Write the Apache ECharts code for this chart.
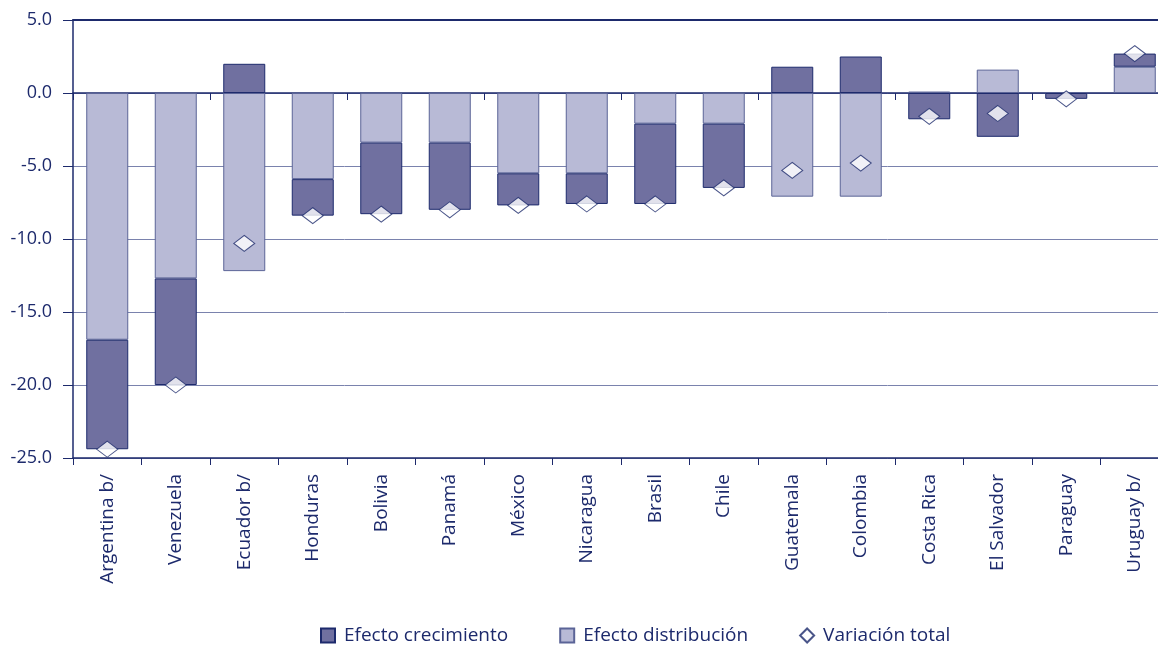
<!DOCTYPE html>
<html>
<head>
<meta charset="utf-8">
<script src="https://cdn.jsdelivr.net/npm/echarts@6/dist/echarts.min.js"></script>
<style>
html,body{margin:0;padding:0;background:#fff;}
#chart{width:1158px;height:645px;}
</style>
</head>
<body>
<div id="chart"></div>
<script>
var categories = ['Argentina b/','Venezuela','Ecuador b/','Honduras','Bolivia','Panamá','México','Nicaragua','Brasil','Chile','Guatemala','Colombia','Costa Rica','El Salvador','Paraguay','Uruguay b/'];
var efectoCrecimiento = [-7.5,-7.3,2.0,-2.5,-4.9,-4.6,-2.2,-2.1,-5.5,-4.4,1.8,2.5,-1.8,-3.0,-0.4,0.9];
var efectoDistribucion = [-16.9,-12.7,-12.2,-5.9,-3.4,-3.4,-5.5,-5.5,-2.1,-2.1,-7.1,-7.1,0.1,1.6,0,1.8];
var variacionTotal = [-24.4,-20.0,-10.3,-8.4,-8.3,-8.0,-7.7,-7.6,-7.6,-6.5,-5.3,-4.8,-1.6,-1.4,-0.4,2.7];
var yTickLabels = ['-25.0','-20.0','-15.0','-10.0','-5.0','0.0','5.0'];

var navy = '#1d2a6c';
var font = 'Open Sans';
var chart = echarts.init(document.getElementById('chart'));
chart.setOption({
  animation: false,
  textStyle: {fontFamily: font, color: navy},
  grid: {left: 73, top: 20, width: 1096, height: 438, show: false, outerBoundsMode: 'none', containLabel: false},
  legend: {
    top: 621, left: 315, itemWidth: 14, itemHeight: 14, itemGap: 51,
    textStyle: {fontFamily: font, fontSize: 19, color: navy, padding: [0, 0, 0, 4]},
    data: [
      {name: 'Efecto crecimiento', icon: 'rect'},
      {name: 'Efecto distribución', icon: 'rect'},
      {name: 'Variación total', icon: 'diamond'}
    ]
  },
  xAxis: [
    {
      type: 'category', data: categories, position: 'bottom',
      axisLine: {onZero: false, lineStyle: {color: navy, width: 1.5}},
      axisTick: {show: true, length: 7, lineStyle: {color: navy}},
      axisLabel: {rotate: 90, margin: 16, fontSize: 19, color: navy, fontFamily: font, interval: 0},
      splitLine: {show: false}
    },
    {
      type: 'category', data: categories, position: 'bottom',
      axisLine: {onZero: true, lineStyle: {color: navy, width: 1.5}},
      axisTick: {show: true, length: 7, lineStyle: {color: navy}},
      axisLabel: {show: false},
      splitLine: {show: false}
    },
    {
      type: 'category', data: categories, position: 'top',
      axisLine: {show: true, onZero: false, lineStyle: {color: navy, width: 1.8}},
      axisTick: {show: false},
      axisLabel: {show: false},
      splitLine: {show: false}
    }
  ],
  yAxis: {
    type: 'value', min: -25, max: 5, interval: 5,
    axisLine: {show: true, lineStyle: {color: navy, width: 1.5}},
    axisTick: {show: true, length: 10, lineStyle: {color: navy}},
    axisLabel: {margin: 21, fontSize: 18, color: navy, fontFamily: font,
      formatter: function (v) { var i = Math.round((v + 25) / 5); return yTickLabels[i]; }},
    splitLine: {show: true, lineStyle: {color: '#7a82ad', width: 1}}
  },
  series: [
    {
      name: 'Efecto distribución', type: 'bar', stack: 'a', barWidth: 42, xAxisIndex: 0,
      itemStyle: {color: '#b8bad6', borderColor: '#5b6497', borderWidth: 1},
      data: efectoDistribucion
    },
    {
      name: 'Efecto crecimiento', type: 'bar', stack: 'a', barWidth: 42, xAxisIndex: 0,
      itemStyle: {color: '#7070a0', borderColor: navy, borderWidth: 1},
      data: efectoCrecimiento
    },
    {
      name: 'Variación total', type: 'scatter', xAxisIndex: 0, symbol: 'diamond', symbolSize: [21, 16], z: 5,
      itemStyle: {color: '#ffffff', borderColor: navy, borderWidth: 1},
      data: variacionTotal
    }
  ]
});
</script>
</body>
</html>
